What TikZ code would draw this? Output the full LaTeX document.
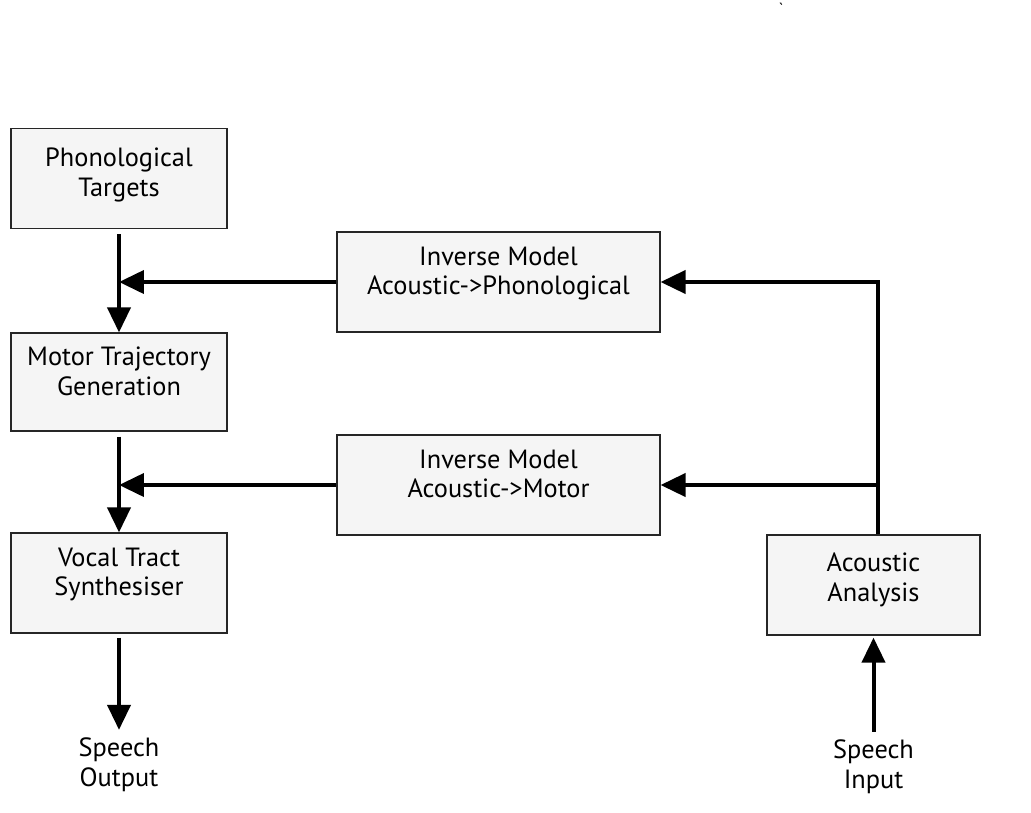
\documentclass[tikz,border=0pt]{standalone}
\usepackage{fontspec}
\setmainfont{PT Sans}
\usetikzlibrary{arrows.meta,calc}
\tikzset{
  block/.style={draw=black!85,line width=0.7pt,fill=black!4,align=center,
    minimum height=2cm,text depth=0.45cm,font=\fontsize{15}{17}\selectfont},
  flow/.style={line width=0.08cm,-{Triangle[length=0.5cm,width=0.46cm]}},
  ends/.style={align=center,font=\fontsize{15}{17}\selectfont}
}
\begin{document}
\begin{tikzpicture}[x=0.02cm,y=-0.02cm]
      \useasboundingbox (0,0) rectangle (1031,812);
      \draw
        (119,178.5) node[block,minimum width=4.32cm,text depth=0.25cm] (phon){Phonological\\Targets}
        (119,382) node[block,minimum width=4.32cm,minimum height=1.96cm] (motor){Motor Trajectory\\Generation}
        (119,583) node[block,minimum width=4.32cm] (vocal){Vocal Tract\\Synthesiser}
        (498.5,282) node[block,minimum width=6.46cm] (invphon){Inverse Model\\Acoustic->Phonological}
        (498.5,485) node[block,minimum width=6.46cm] (invmotor){Inverse Model\\Acoustic->Motor}
        (873.5,585) node[block,minimum width=4.26cm,text depth=0.3cm] (acoustic){Acoustic\\Analysis}
        (119,765) node[ends] (output){Speech\\Output}
        (873.5,767) node[ends] (input){Speech\\Input}
        (781,9) node[font=\small,inner sep=0pt] (mark){\textasciigrave};
      \coordinate (split) at (878,283);
      \begin{scope}[flow]
        \draw ([yshift=-0.1cm]phon.south) to (motor.north);
        \draw ([yshift=-0.1cm]motor.south) to (vocal.north);
        \draw ([yshift=-0.08cm]vocal.south) to ([yshift=0.04cm]output.north);
        \draw ([yshift=0.04cm]input.north) to ([yshift=-0.04cm]acoustic.south);
        \draw (invphon.west) to (invphon.west -| phon.south);
        \draw (invmotor.west) to (invmotor.west -| motor.south);
        \draw (acoustic.north -| split) |- (invphon.east);
        \draw (invmotor.east -| split) to (invmotor.east);
      \end{scope}
    \end{tikzpicture}
\end{document}
